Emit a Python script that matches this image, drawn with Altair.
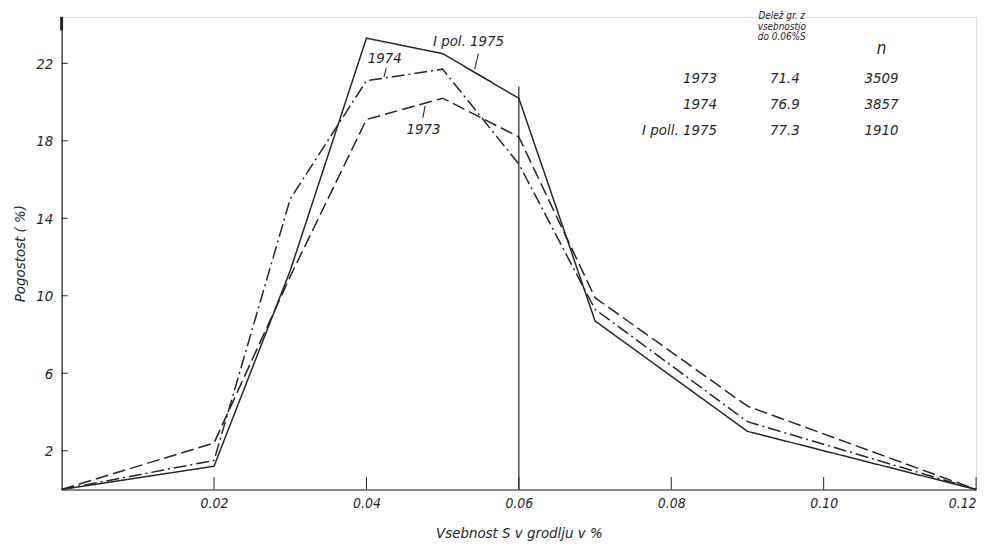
import altair as alt
import pandas as pd

# ---- data ----
x_vals = [0.0, 0.02, 0.03, 0.04, 0.05, 0.06, 0.07, 0.09, 0.12]
s1973 = [0.0, 2.4, 11.0, 19.1, 20.2, 18.2, 9.9, 4.3, 0.0]
s1974 = [0.0, 1.5, 15.0, 21.1, 21.7, 16.8, 9.3, 3.5, 0.0]
s1975 = [0.0, 1.2, 11.3, 23.3, 22.5, 20.2, 8.7, 3.0, 0.0]
series_names = ["1973", "1974", "I pol. 1975"]

x_ticks = [0.02, 0.04, 0.06, 0.08, 0.10, 0.12]
y_ticks = [2, 6, 10, 14, 18, 22]

# curve labels (data coords) and leader lines
lab_text = ["I pol. 1975", "1974", "1973"]
lab_x = [0.0534, 0.0424, 0.0475]
lab_y = [23.15, 22.25, 18.6]
lead_x = [0.0547, 0.0426, 0.0477]
lead_x2 = [0.0542, 0.0423, 0.0474]
lead_y = [22.5, 21.75, 19.8]
lead_y2 = [21.7, 21.3, 19.2]

# table in upper right
tab_years = ["1973", "1974", "I poll. 1975"]
tab_share = ["71.4", "76.9", "77.3"]
tab_n = ["3509", "3857", "1910"]
tab_row_y = [21.25, 19.9, 18.55]
tab_x_year = 0.0860
tab_x_share = 0.0949
tab_x_n = 0.1076
head_lines = ["Delež  gr. z", "vsebnostjo", "do 0.06%S"]
head_y = [24.42, 23.9, 23.38]
head_x = 0.0945
n_label_y = 22.75

FONT = "DejaVu Sans Condensed, Liberation Sans Narrow, DejaVu Sans"
INK = "#262626"

rows = []
for name, vals in zip(series_names, [s1973, s1974, s1975]):
    for xv, yv in zip(x_vals, vals):
        rows.append({"x": xv, "y": yv, "s": name})
df = pd.DataFrame(rows)

xs = alt.Scale(domain=[0, 0.12], nice=False, zero=False)
ys = alt.Scale(domain=[0, 24.4], nice=False)

base_x = alt.X("x:Q", scale=xs, axis=alt.Axis(
    values=x_ticks, format=".2f", title="Vsebnost  S  v  grodlju  v  %",
    grid=False, ticks=False, domainColor=INK, domainWidth=1.2,
    labelFont=FONT, labelFontStyle="italic", labelFontSize=14, labelColor=INK,
    labelPadding=7, titleFont=FONT, titleFontStyle="italic", titleFontWeight="normal",
    titleFontSize=15, titleColor=INK, titlePadding=15))
base_y = alt.Y("y:Q", scale=ys, axis=alt.Axis(
    values=y_ticks, title="Pogostost  ( %)", grid=False, ticks=False,
    domainColor=INK, domainWidth=1.2,
    labelFont=FONT, labelFontStyle="italic", labelFontSize=15, labelColor=INK,
    labelPadding=9, titleFont=FONT, titleFontStyle="italic", titleFontWeight="normal",
    titleFontSize=15, titleColor=INK, titlePadding=8))

lines = alt.Chart(df).mark_line(color=INK, strokeWidth=1.5).encode(
    x=base_x, y=base_y,
    strokeDash=alt.StrokeDash("s:N", scale=alt.Scale(
        domain=series_names, range=[[13, 5], [13, 4, 2, 4], [1, 0]]), legend=None),
    detail="s:N",
)

# inward tick marks
xt = pd.DataFrame({"x": x_ticks, "y": [0] * len(x_ticks), "y2": [0.65] * len(x_ticks)})
xtick = alt.Chart(xt).mark_rule(color=INK, strokeWidth=1).encode(
    x=alt.X("x:Q", scale=xs), y=alt.Y("y:Q", scale=ys), y2="y2:Q")
yt = pd.DataFrame({"x": [0.0] * len(y_ticks), "x2": [0.0008] * len(y_ticks), "y": y_ticks})
ytick = alt.Chart(yt).mark_rule(color=INK, strokeWidth=1).encode(
    x=alt.X("x:Q", scale=xs), x2="x2:Q", y=alt.Y("y:Q", scale=ys))

# arrow-ish thick top of y-axis
ytop = alt.Chart(pd.DataFrame({"x": [0.0], "y": [23.7], "y2": [24.4]})).mark_rule(
    color=INK, strokeWidth=3).encode(x=alt.X("x:Q", scale=xs), y=alt.Y("y:Q", scale=ys), y2="y2:Q")

# vertical line at 0.06
vline = alt.Chart(pd.DataFrame({"x": [0.06], "y": [0.0], "y2": [20.8]})).mark_rule(
    color=INK, strokeWidth=1.2).encode(x=alt.X("x:Q", scale=xs), y=alt.Y("y:Q", scale=ys), y2="y2:Q")

# curve labels
labs = alt.Chart(pd.DataFrame({"x": lab_x, "y": lab_y, "t": lab_text})).mark_text(
    font=FONT, fontStyle="italic", fontSize=15, color=INK, align="center", baseline="middle"
).encode(x=alt.X("x:Q", scale=xs), y=alt.Y("y:Q", scale=ys), text="t:N")
leads = alt.Chart(pd.DataFrame({"x": lead_x, "x2": lead_x2, "y": lead_y, "y2": lead_y2})).mark_rule(
    color=INK, strokeWidth=1.1).encode(x=alt.X("x:Q", scale=xs), x2="x2:Q",
                                       y=alt.Y("y:Q", scale=ys), y2="y2:Q")

# table
def tcol(xpos, texts, yvals, align, size):
    d = pd.DataFrame({"x": [xpos] * len(texts), "y": yvals, "t": texts})
    return alt.Chart(d).mark_text(font=FONT, fontStyle="italic", fontSize=size, color=INK,
                                  align=align, baseline="middle").encode(
        x=alt.X("x:Q", scale=xs), y=alt.Y("y:Q", scale=ys), text="t:N")

t_years = tcol(tab_x_year, tab_years, tab_row_y, "right", 15)
t_share = tcol(tab_x_share, tab_share, tab_row_y, "center", 15)
t_n = tcol(tab_x_n, tab_n, tab_row_y, "center", 15)
t_head = tcol(head_x, head_lines, head_y, "center", 10)
t_nlab = tcol(tab_x_n, ["n"], [n_label_y], "center", 17)

chart = alt.layer(lines, xtick, ytick, ytop, vline, leads, labs,
                  t_years, t_share, t_n, t_head, t_nlab).properties(
    width=921, height=476,
    autosize=alt.AutoSizeParams(type="none"),
    padding={"left": 54, "top": 7, "right": 12, "bottom": 54},
).configure_view(stroke=None).configure(background="white")

chart.save("out.html", embed_options={"renderer": "svg", "actions": False})
